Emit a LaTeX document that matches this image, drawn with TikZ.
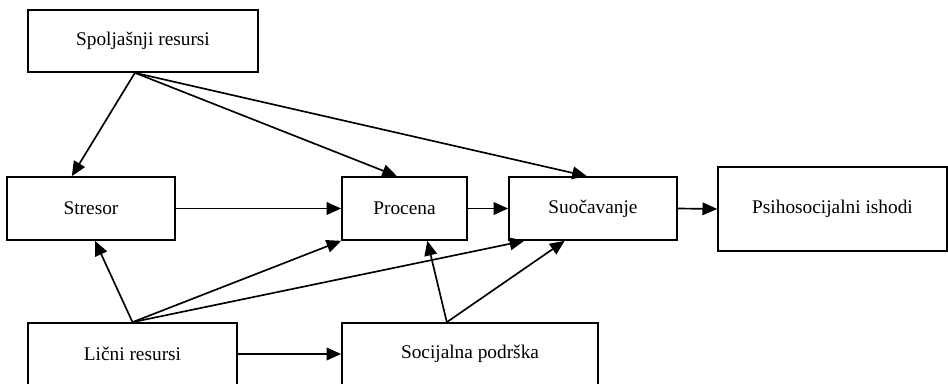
\documentclass[tikz,border=0pt]{standalone}
\usepackage{fontspec}
\setmainfont{Liberation Serif}
\usetikzlibrary{arrows.meta,calc}
\begin{document}
\begin{tikzpicture}[x=0.75pt,y=-0.75pt,
  box/.style={draw,line width=1.25pt,inner sep=0pt,font=\fontsize{14.5}{16}\selectfont},
  arr/.style={-{Triangle[length=11pt,width=9.5pt]},line width=1.25pt}]
\clip (0,0) rectangle (948,384);
\fill[white] (0,0) rectangle (948,384);
\node[box,minimum width=230*0.75pt,minimum height=62*0.75pt] (spo) at (143,41) {Spoljašnji resursi};
\node[box,minimum width=168*0.75pt,minimum height=63*0.75pt] (str) at (91,208.5) {Stresor};
\node[box,minimum width=125*0.75pt,minimum height=63*0.75pt] (pro) at (404.5,208.5) {Procena};
\node[box,minimum width=168*0.75pt,minimum height=63*0.75pt] (suo) at (593,208.5) {Suočavanje};
\node[box,minimum width=229*0.75pt,minimum height=84*0.75pt] (psi) at (832.5,209) {Psihosocijalni ishodi};
\node[box,minimum width=209*0.75pt,minimum height=62*0.75pt] (lic) at (132.5,354) {Lični resursi};
\node[box,minimum width=256*0.75pt,minimum height=62*0.75pt] (soc) at (470,354) {Socijalna podrška};
% anchor points
\coordinate (spoS) at ($(spo.south west)!0.465!(spo.south east)$);
\coordinate (strN) at ($(str.north west)!0.387!(str.north east)$);
\coordinate (strS) at ($(str.south west)!0.524!(str.south east)$);
\coordinate (proN) at ($(pro.north west)!0.44!(pro.north east)$);
\coordinate (proS) at ($(pro.south west)!0.68!(pro.south east)$);
\coordinate (suoN) at ($(suo.north west)!0.464!(suo.north east)$);
\coordinate (suoSa) at ($(suo.south west)!0.095!(suo.south east)$);
\coordinate (suoSb) at ($(suo.south west)!0.333!(suo.south east)$);
\coordinate (socN) at ($(soc.north west)!0.41!(soc.north east)$);
% connectors
\draw[arr] (spoS) -- (strN);
\draw[arr] (spoS) -- (proN);
\draw[arr] (spoS) -- (suoN);
\draw[arr] (str.east) -- (pro.west);
\draw[arr] (pro.east) -- (suo.west);
\draw[arr] (suo.east) -- (psi.west);
\draw[arr] (lic.north) -- (strS);
\draw[arr] (lic.north) -- (pro.south west);
\draw[arr] (lic.north) -- (suoSa);
\draw[arr] (lic.east) -- (soc.west);
\draw[arr] (socN) -- (proS);
\draw[arr] (socN) -- (suoSb);
\end{tikzpicture}
\end{document}
